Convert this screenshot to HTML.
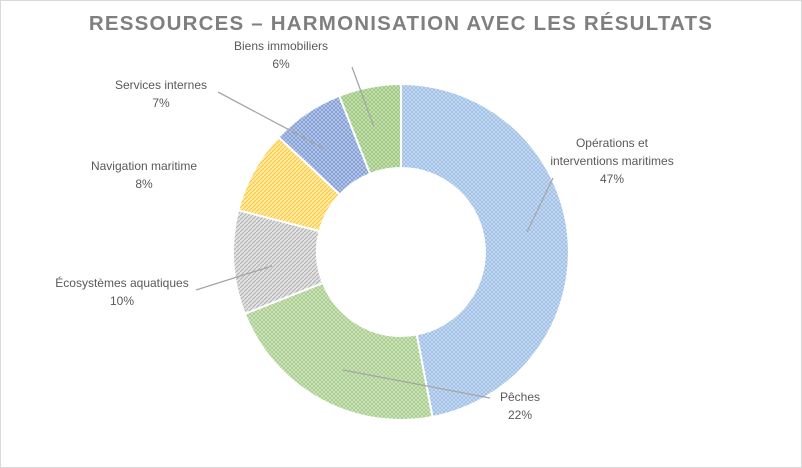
<!DOCTYPE html>
<html><head><meta charset="utf-8"><style>
body{margin:0;background:#fff}
svg{display:block;font-family:"Liberation Sans",sans-serif}
</style></head><body>
<svg width="802" height="468" viewBox="0 0 802 468">
<defs>
<pattern id="p1" width="4" height="4" patternUnits="userSpaceOnUse"><rect width="4" height="4" fill="#cadcf3"/><path d="M0 4L4 0M0 0L4 4" stroke="#9bbde6" stroke-width="0.8"/></pattern>
<pattern id="p2" width="4" height="4" patternUnits="userSpaceOnUse"><rect width="4" height="4" fill="#d3e6c5"/><path d="M0 4L4 0M0 0L4 4" stroke="#a2cb86" stroke-width="0.8"/></pattern>
<pattern id="p3" width="4" height="4" patternUnits="userSpaceOnUse"><rect width="4" height="4" fill="#e2e2e2"/><path d="M0 4L4 0" stroke="#b0b0b0" stroke-width="1"/></pattern>
<pattern id="p4" width="4" height="4" patternUnits="userSpaceOnUse"><rect width="4" height="4" fill="#ffe9a3"/><path d="M0 4L4 0" stroke="#f8c93a" stroke-width="1"/></pattern>
<pattern id="p5" width="4" height="4" patternUnits="userSpaceOnUse"><rect width="4" height="4" fill="#bccdeb"/><path d="M0 4L4 0M0 0L4 4" stroke="#7c99d4" stroke-width="0.8"/></pattern>
<pattern id="p6" width="4" height="4" patternUnits="userSpaceOnUse"><rect width="4" height="4" fill="#cde4bd"/><path d="M0 4L4 0M0 0L4 4" stroke="#97c577" stroke-width="0.8"/></pattern>
</defs>
<rect x="0.5" y="0.5" width="801" height="467" fill="#fff" stroke="#d9d9d9"/>
<text x="401" y="30" text-anchor="middle" font-size="20.5" font-weight="bold" fill="#7f7f7f" letter-spacing="1.2">RESSOURCES – HARMONISATION AVEC LES RÉSULTATS</text>
<g stroke="#fff" stroke-width="2">
<path d="M401 84A168 168 0 0 1 432.5 417L416.7 334.5A84 84 0 0 0 401 168Z" fill="url(#p1)"/>
<path d="M432.5 417A168 168 0 0 1 244.8 313.8L322.9 282.9A84 84 0 0 0 416.7 334.5Z" fill="url(#p2)"/>
<path d="M244.8 313.8A168 168 0 0 1 238.3 210.2L319.6 231.1A84 84 0 0 0 322.9 282.9Z" fill="url(#p3)"/>
<path d="M238.3 210.2A168 168 0 0 1 278.5 137L339.8 194.5A84 84 0 0 0 319.6 231.1Z" fill="url(#p4)"/>
<path d="M278.5 137A168 168 0 0 1 339.2 95.8L370.1 173.9A84 84 0 0 0 339.8 194.5Z" fill="url(#p5)"/>
<path d="M339.2 95.8A168 168 0 0 1 401 84L401 168A84 84 0 0 0 370.1 173.9Z" fill="url(#p6)"/>
</g>
<g stroke="#a6a6a6" stroke-width="1.3" fill="none">
<path d="M527 232L553 178"/>
<path d="M343 370L490 398"/>
<path d="M272 266L196 290"/>
<path d="M325 149L218 92"/>
<path d="M374 127L352 67"/>
</g>
<g font-size="12" fill="#595959" text-anchor="middle">
<text x="612" y="147">Opérations et</text>
<text x="612" y="165">interventions maritimes</text>
<text x="612" y="183">47%</text>
<text x="520" y="401">Pêches</text>
<text x="520" y="419">22%</text>
<text x="122" y="287">Écosystèmes aquatiques</text>
<text x="122" y="305">10%</text>
<text x="144" y="170">Navigation maritime</text>
<text x="144" y="188">8%</text>
<text x="161" y="89">Services internes</text>
<text x="161" y="107">7%</text>
<text x="281" y="50">Biens immobiliers</text>
<text x="281" y="68">6%</text>
</g>
</svg>
</body></html>
